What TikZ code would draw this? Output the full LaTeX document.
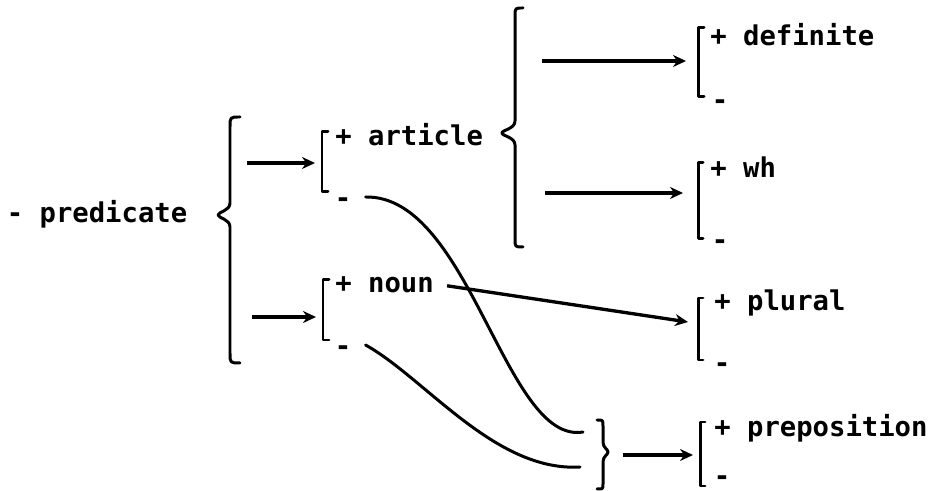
\documentclass[tikz,border=0pt]{standalone}
\usepackage{fontspec}
\usepackage{tikz}
\usetikzlibrary{arrows.meta}
\setmonofont{DejaVu Sans Mono}

\begin{document}
\begin{tikzpicture}[x=1cm,y=1cm,
  feat/.style={anchor=mid west,inner sep=0pt,font=\fontsize{15.5}{18}\selectfont\ttfamily\bfseries},
  neg/.style={anchor=mid,inner sep=0pt,font=\fontsize{15.5}{18}\selectfont\ttfamily\bfseries},
  brk/.style={line width=1.7pt,line join=round,line cap=round},
  arr/.style={line width=1.9pt,-{Stealth[length=0.26cm,width=0.24cm]}},
  lnk/.style={line width=1.7pt,line cap=round}]
\path[use as bounding box] (0,0) rectangle (18.56,9.82);
% feature labels
\node[feat] (pred) at (0.13,5.44) {- predicate};
\node[feat] (art)  at (6.70,6.98) {+ article};
\node[feat] (noun) at (6.70,4.04) {+ noun};
\node[feat] (def)  at (14.20,8.98) {+ definite};
\node[feat] (wh)   at (14.20,6.34) {+ wh};
\node[feat] (plu)  at (14.28,3.68) {+ plural};
\node[feat] (prep) at (14.28,1.16) {+ preposition};
\node[neg] (artm)  at (6.86,5.74) {-};
\node[neg] (nounm) at (6.86,2.78) {-};
\node[neg] (defm)  at (14.40,7.70) {-};
\node[neg] (whm)   at (14.40,4.90) {-};
\node[neg] (plum)  at (14.44,2.44) {-};
\node[neg] (prepm) at (14.44,0.18) {-};
% value brackets
\draw[brk] (6.56,7.18) -- (6.44,7.18) -- (6.44,5.98) -- (6.56,5.98);
\draw[brk] (6.58,4.22) -- (6.46,4.22) -- (6.46,3.02) -- (6.58,3.02);
\draw[brk] (14.08,9.26) -- (13.96,9.26) -- (13.96,7.88) -- (14.08,7.88);
\draw[brk] (14.06,6.56) -- (13.96,6.56) -- (13.96,5.04) -- (14.06,5.04);
\draw[brk] (14.06,3.86) -- (13.96,3.86) -- (13.96,2.62) -- (14.06,2.62);
\draw[brk] (14.10,1.38) -- (14.00,1.38) -- (14.00,0.10) -- (14.10,0.10);
% braces
\draw[brk] (4.80,7.48) .. controls (4.60,7.48) .. (4.60,7.28) -- (4.60,5.76)
  .. controls (4.60,5.60) and (4.36,5.58) .. (4.36,5.52)
  .. controls (4.36,5.46) and (4.60,5.44) .. (4.60,5.28) -- (4.60,2.76)
  .. controls (4.60,2.56) .. (4.80,2.56);
\draw[brk] (10.46,9.66) .. controls (10.30,9.66) .. (10.30,9.50) -- (10.30,7.40)
  .. controls (10.30,7.24) and (10.04,7.22) .. (10.04,7.16)
  .. controls (10.04,7.10) and (10.30,7.08) .. (10.30,6.92) -- (10.30,5.04)
  .. controls (10.30,4.88) .. (10.46,4.88);
\draw[brk] (11.94,1.42) .. controls (12.06,1.42) .. (12.06,1.30) -- (12.06,0.98)
  .. controls (12.06,0.86) and (12.16,0.84) .. (12.16,0.78)
  .. controls (12.16,0.72) and (12.06,0.70) .. (12.06,0.58) -- (12.06,0.14)
  .. controls (12.06,0.04) .. (11.94,0.04);
% arrow ends
\coordinate (pbr1) at (4.94,6.56);  \coordinate (art-in)  at (6.30,6.56);
\coordinate (pbr2) at (5.04,3.48);  \coordinate (noun-in) at (6.32,3.48);
\coordinate (abr1) at (10.84,8.60); \coordinate (def-in)  at (13.72,8.60);
\coordinate (abr2) at (10.90,5.96); \coordinate (wh-in)   at (13.66,5.96);
\coordinate (jbr)  at (12.46,0.72); \coordinate (prep-in) at (13.86,0.72);
\coordinate (plu-in) at (13.76,3.38);
\coordinate (jin1) at (11.66,1.18);
\coordinate (jin2) at (11.60,0.48);
\draw[arr] (pbr1) -- (art-in);
\draw[arr] (pbr2) -- (noun-in);
\draw[arr] (abr1) -- (def-in);
\draw[arr] (abr2) -- (wh-in);
\draw[arr] (jbr) -- (prep-in);
\draw[arr] ([xshift=0.26cm,yshift=0.14cm]noun.base east) -- (plu-in);
% minus values joined into the preposition brace
\draw[lnk] ([xshift=0.28cm,yshift=0.14cm]artm.mid east) .. controls (9.40,5.92) and (10.10,0.92) .. (jin1);
\draw[lnk] ([xshift=0.28cm,yshift=0.14cm]nounm.mid east) .. controls (8.50,2.26) and (9.90,0.38) .. (jin2);
\end{tikzpicture}
\end{document}
